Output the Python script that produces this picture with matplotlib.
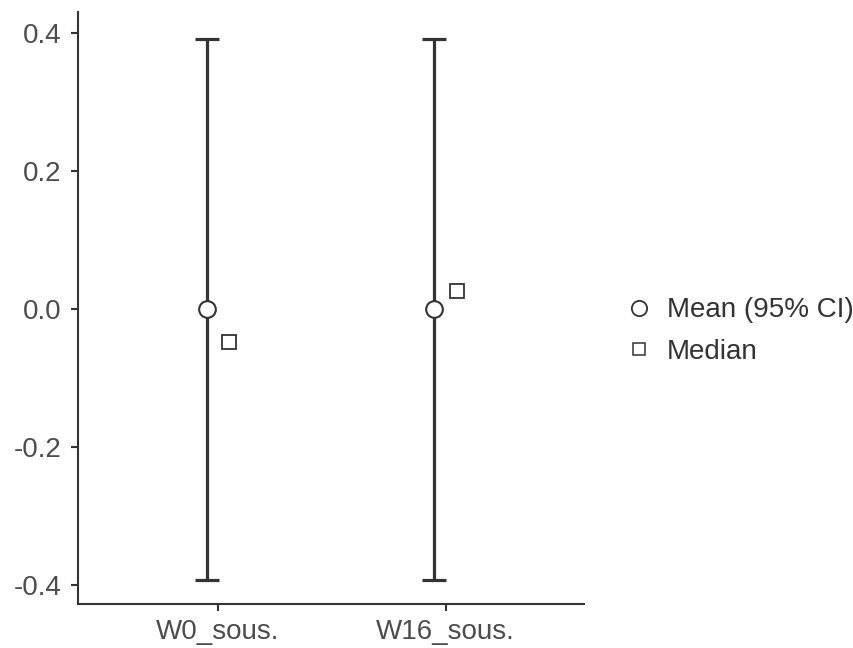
import matplotlib
matplotlib.use("Agg")
import matplotlib.pyplot as plt
from matplotlib.lines import Line2D

categories = ["W0_sous.", "W16_sous."]
means = [0.0, 0.0]
ci_lower = [-0.392, -0.392]
ci_upper = [0.392, 0.392]
medians = [-0.048, 0.026]
yticks = [-0.4, -0.2, 0.0, 0.2, 0.4]

plt.rcParams['font.family'] = ['Liberation Sans', 'DejaVu Sans']
fig = plt.figure(figsize=(8.54, 6.48), dpi=100)
ax = fig.add_axes([0.0913, 0.0679, 0.5925, 0.913])

dark = "#333333"
xs = list(range(1, len(categories) + 1))
dodge = 0.05
xm = [x - dodge for x in xs]
xmed = [x + dodge for x in xs]
yerr = [[m - l for m, l in zip(means, ci_lower)], [u - m for m, u in zip(means, ci_upper)]]

ax.errorbar(xm, means, yerr=yerr, fmt='none', ecolor=dark, elinewidth=2.3,
            capsize=8.5, capthick=2.3, zorder=2)
ax.plot(xm, means, 'o', ms=12, mfc='white', mec=dark, mew=1.5, zorder=3, linestyle='none')
ax.plot(xmed, medians, 's', ms=10, mfc='white', mec=dark, mew=1.3, zorder=3, linestyle='none')

ax.set_xlim(0.385, 2.607)
ax.set_ylim(-0.4275, 0.430)
ax.set_xticks(xs)
ax.set_xticklabels(categories)
ax.set_yticks(yticks)
ax.set_yticklabels([f"{v:.1f}" for v in yticks])

for s in ['top', 'right']:
    ax.spines[s].set_visible(False)
for s in ['left', 'bottom']:
    ax.spines[s].set_color(dark)
    ax.spines[s].set_linewidth(1.5)
ax.tick_params(axis='both', colors=dark, labelcolor='#4d4d4d', labelsize=20,
               length=5, width=1.5)
ax.tick_params(axis='y', pad=7)
ax.tick_params(axis='x', pad=6)

handles = [
    Line2D([], [], marker='o', linestyle='none', ms=11, mfc='white', mec=dark, mew=1.3),
    Line2D([], [], marker='s', linestyle='none', ms=9, mfc='white', mec=dark, mew=1.1),
]
fig.legend(handles, ["Mean (95% CI)", "Median"], loc='center left',
           bbox_to_anchor=(0.706, 0.489), frameon=False, fontsize=20,
           handlelength=0.8, handletextpad=0.6, labelspacing=0.55, labelcolor='#333333')

fig.savefig("out.png", dpi=100)
